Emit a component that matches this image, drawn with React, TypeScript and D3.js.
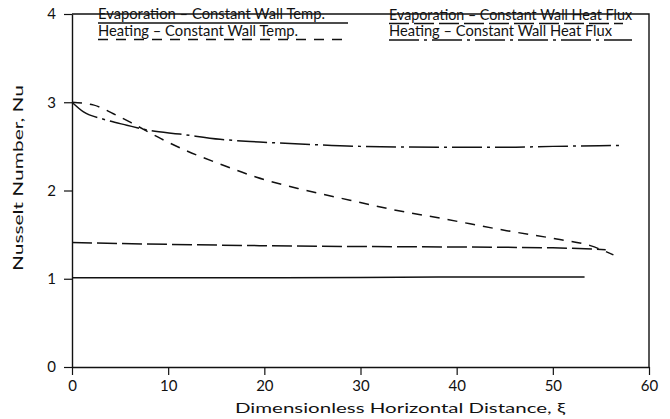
import React, { useEffect, useRef } from 'react';
import * as d3 from 'd3';

// Evaporation - constant wall temperature (solid)
const evapCwtXi = [0, 10, 20, 30, 40, 53.3];
const evapCwtNu = [1.01, 1.01, 1.01, 1.015, 1.02, 1.02];

// Heating - constant wall temperature (short dashes)
const heatCwtXi = [0, 2.2, 4.3, 6.3, 9.2, 11.9, 15.4, 19.2, 24, 28.9, 33.5, 38.6, 45.2, 50.4, 53.9, 56.3];
const heatCwtNu = [3.0, 2.97, 2.87, 2.76, 2.59, 2.45, 2.3, 2.15, 2.01, 1.89, 1.78, 1.68, 1.545, 1.45, 1.375, 1.27];

// Evaporation - constant wall heat flux (long dashes)
const evapHfXi = [0, 10, 19.5, 30, 40, 50, 55.5];
const evapHfNu = [1.41, 1.39, 1.375, 1.365, 1.36, 1.35, 1.33];

// Heating - constant wall heat flux (dash-dot)
const heatHfXi = [0, 1.2, 3.2, 5.7, 8.1, 11.2, 15.4, 19.5, 25, 30, 39, 45, 50, 57.3];
const heatHfNu = [3.0, 2.89, 2.81, 2.74, 2.68, 2.64, 2.58, 2.55, 2.52, 2.5, 2.49, 2.49, 2.5, 2.51];

const xTicks = [0, 10, 20, 30, 40, 50, 60];
const yTicks = [0, 1, 2, 3, 4];

const legendLabels = [
  'Evaporation – Constant Wall Temp.',
  'Heating – Constant Wall Temp.',
  'Evaporation – Constant Wall Heat Flux',
  'Heating – Constant Wall Heat Flux',
];

const FONT = 'Lato, "Liberation Sans", Arial, sans-serif';

const App = () => {
  const svgRef = useRef<SVGSVGElement>(null);

  useEffect(() => {
    const svg = d3.select(svgRef.current);
    svg.selectAll('*').remove();

    const width = 670;
    const height = 419;
    const left = 72;
    const right = 649;
    const top = 14;
    const bottom = 367;

    svg.attr('width', width).attr('height', height);

    const x = d3.scaleLinear().domain([0, 60]).range([left, right]);
    const y = d3.scaleLinear().domain([0, 4]).range([bottom, top]);

    // frame (top + right)
    svg.append('path')
      .attr('d', `M${left},${top}H${right}V${bottom}`)
      .attr('fill', 'none')
      .attr('stroke', '#111')
      .attr('stroke-width', 1.4);

    // axes
    const xAxis = svg.append('g')
      .attr('transform', `translate(0,${bottom})`)
      .call(d3.axisBottom(x).tickValues(xTicks).tickFormat(d3.format('d')).tickSize(8).tickSizeOuter(0).tickPadding(5));
    const yAxis = svg.append('g')
      .attr('transform', `translate(${left},0)`)
      .call(d3.axisLeft(y).tickValues(yTicks).tickFormat(d3.format('d')).tickSize(8).tickSizeOuter(0).tickPadding(8));

    [xAxis, yAxis].forEach(g => {
      g.selectAll('path.domain').attr('stroke', '#111').attr('stroke-width', 1.4);
      g.selectAll('line').attr('stroke', '#111').attr('stroke-width', 1.2);
      g.selectAll('text')
        .attr('fill', '#111')
        .style('font-family', FONT)
        .style('font-size', '15px');
    });

    // axis titles
    svg.append('text')
      .attr('x', 400)
      .attr('y', 413)
      .attr('text-anchor', 'middle')
      .attr('textLength', 330)
      .attr('lengthAdjust', 'spacingAndGlyphs')
      .style('font-family', FONT)
      .style('font-size', '14px')
      .attr('fill', '#111')
      .text('Dimensionless Horizontal Distance, ξ');

    svg.append('text')
      .attr('transform', 'translate(23,178) rotate(-90)')
      .attr('text-anchor', 'middle')
      .attr('textLength', 186)
      .attr('lengthAdjust', 'spacingAndGlyphs')
      .style('font-family', FONT)
      .style('font-size', '14px')
      .attr('fill', '#111')
      .text('Nusselt Number, Nu');

    const line = d3.line<[number, number]>()
      .x(d => x(d[0]))
      .y(d => y(d[1]))
      .curve(d3.curveMonotoneX);

    const series = [
      { xi: evapCwtXi, nu: evapCwtNu, dash: null },
      { xi: heatCwtXi, nu: heatCwtNu, dash: '10,8' },
      { xi: evapHfXi, nu: evapHfNu, dash: '20,5' },
      { xi: heatHfXi, nu: heatHfNu, dash: '30,5,3,5' },
    ];

    series.forEach(s => {
      const pts = s.xi.map((v, i) => [v, s.nu[i]] as [number, number]);
      svg.append('path')
        .attr('d', line(pts))
        .attr('fill', 'none')
        .attr('stroke', '#111')
        .attr('stroke-width', 1.5)
        .attr('stroke-dasharray', s.dash);
    });

    // legend (text with styled underline)
    const legend = [
      { tx: 98, ty: 19, ly: 23, x2: 348, tl: 227 },
      { tx: 98, ty: 35.5, ly: 39.5, x2: 348, tl: 200 },
      { tx: 389, ty: 19.5, ly: 23.5, x2: 623, tl: 243 },
      { tx: 389, ty: 36, ly: 40, x2: 632, tl: 223 },
    ];

    legend.forEach((l, i) => {
      svg.append('text')
        .attr('x', l.tx)
        .attr('y', l.ty)
        .attr('textLength', l.tl)
        .attr('lengthAdjust', 'spacingAndGlyphs')
        .style('font-family', FONT)
        .style('font-size', '15px')
        .attr('fill', '#111')
        .text(legendLabels[i]);

      svg.append('line')
        .attr('x1', l.tx)
        .attr('x2', l.x2)
        .attr('y1', l.ly)
        .attr('y2', l.ly)
        .attr('stroke', '#111')
        .attr('stroke-width', 1.4)
        .attr('stroke-dasharray', series[i].dash);
    });
  }, []);

  return (
    <svg ref={svgRef} style={{ position: 'absolute', left: 0, top: 0, background: '#fff' }}></svg>
  );
};

export default App;
